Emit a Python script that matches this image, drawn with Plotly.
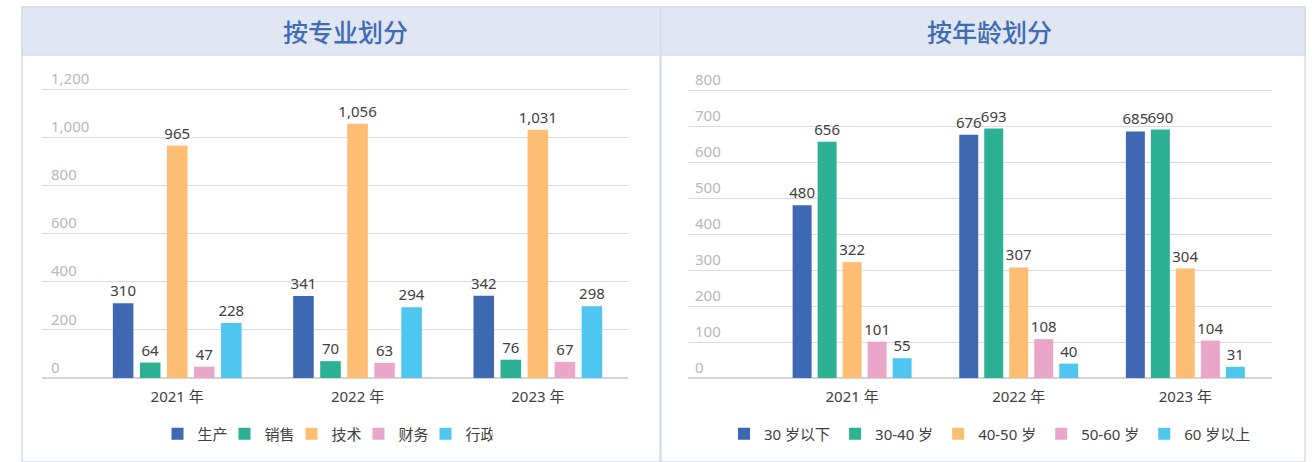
import plotly.graph_objects as go

W, H = 1312, 462

years = ["2021 年", "2022 年", "2023 年"]

major_names = ["生产", "销售", "技术", "财务", "行政"]
major_values = [
    [310, 341, 342],
    [64, 70, 76],
    [965, 1056, 1031],
    [47, 63, 67],
    [228, 294, 298],
]

age_names = ["30 岁以下", "30-40 岁", "40-50 岁", "50-60 岁", "60 岁以上"]
age_values = [
    [480, 676, 685],
    [656, 693, 690],
    [322, 307, 304],
    [101, 108, 104],
    [55, 40, 31],
]

colors = ["#3F68B3", "#2CB195", "#FDBE74", "#E9A6C9", "#4EC6EF"]

FONT = "Noto Sans, Noto Sans CJK SC, sans-serif"


def px(x):
    return x / W


def py(y):
    return 1 - y / H


fig = go.Figure()

for name, vals, c in zip(major_names, major_values, colors):
    fig.add_trace(go.Bar(
        x=years, y=vals, name=name, marker=dict(color=c, line=dict(width=0)),
        texttemplate="%{y:,}", textposition="outside", cliponaxis=False,
        constraintext="none", textangle=0,
        textfont=dict(size=15, color="#404040", family=FONT),
        xaxis="x", yaxis="y", legend="legend", offsetgroup=name,
    ))

for name, vals, c in zip(age_names, age_values, colors):
    fig.add_trace(go.Bar(
        x=years, y=vals, name=name, marker=dict(color=c, line=dict(width=0)),
        texttemplate="%{y:,}", textposition="outside", cliponaxis=False,
        constraintext="none", textangle=0,
        textfont=dict(size=15, color="#404040", family=FONT),
        xaxis="x2", yaxis="y2", legend="legend2", offsetgroup="a" + name,
    ))

grid = "#DCDCDC"
tickfont = dict(size=15, color="#B8B8B8", family=FONT)
xtickfont = dict(size=15, color="#404040", family=FONT)

# y scale: left 0 at y=378, 1200 at y=89 (0.2408 px/unit); right 0 at 378, 800 at 90 (0.36 px/unit)
fig.update_layout(
    width=W, height=H,
    margin=dict(l=0, r=0, t=0, b=0),
    paper_bgcolor="white", plot_bgcolor="white",
    font=dict(family=FONT),
    barmode="group",
    bargap=0.25, bargroupgap=0.24,
    showlegend=True,
    xaxis=dict(domain=[px(42), px(628)], anchor="y", range=[-0.75, 2.5],
               showgrid=False, showline=False, ticks="", tickfont=xtickfont,
               ticklabelstandoff=8, fixedrange=True),
    yaxis=dict(domain=[py(378), py(378 - 1320 * 0.2408)], anchor="x", range=[0, 1320],
               tickvals=[0, 200, 400, 600, 800, 1000, 1200],
               tickformat=",", showgrid=True, gridcolor=grid, gridwidth=1,
               zeroline=True, zerolinecolor="#D4D4D4", zerolinewidth=1.5,
               ticklabelposition="inside top", ticklabelstandoff=6,
               tickfont=tickfont, ticks="", showline=False, fixedrange=True),
    xaxis2=dict(domain=[px(688), px(1272)], anchor="y2", range=[-0.985, 2.52],
                showgrid=False, showline=False, ticks="", tickfont=xtickfont,
                ticklabelstandoff=8, fixedrange=True),
    yaxis2=dict(domain=[py(378), py(378 - 880 * 0.36)], anchor="x2", range=[0, 880],
                tickvals=[0, 100, 200, 300, 400, 500, 600, 700, 800],
                tickformat=",", showgrid=True, gridcolor=grid, gridwidth=1,
                zeroline=True, zerolinecolor="#D4D4D4", zerolinewidth=1.5,
                ticklabelposition="inside top", ticklabelstandoff=4,
                tickfont=tickfont, ticks="", showline=False, fixedrange=True),
    legend=dict(orientation="h", x=px(325), xanchor="center", y=py(434), yanchor="middle",
                font=dict(size=15, color="#404040", family=FONT),
                itemwidth=30, entrywidth=22, entrywidthmode="pixels",
                bgcolor="rgba(0,0,0,0)", traceorder="normal"),
    legend2=dict(orientation="h", x=px(990), xanchor="center", y=py(434), yanchor="middle",
                 font=dict(size=15, color="#404040", family=FONT),
                 itemwidth=30, bgcolor="rgba(0,0,0,0)", traceorder="normal"),
)

border = "#D5DDEE"
band = "#E0E6F2"
shapes = [
    dict(type="rect", xref="paper", yref="paper", x0=px(22), x1=px(660), y0=py(462), y1=py(7),
         line=dict(color=border, width=1.5), fillcolor="rgba(0,0,0,0)", layer="below"),
    dict(type="rect", xref="paper", yref="paper", x0=px(22), x1=px(660), y0=py(55), y1=py(7),
         line=dict(color=border, width=1.5), fillcolor=band, layer="below"),
    dict(type="rect", xref="paper", yref="paper", x0=px(661), x1=px(1305), y0=py(462), y1=py(7),
         line=dict(color=border, width=1.5), fillcolor="rgba(0,0,0,0)", layer="below"),
    dict(type="rect", xref="paper", yref="paper", x0=px(661), x1=px(1305), y0=py(55), y1=py(7),
         line=dict(color=border, width=1.5), fillcolor=band, layer="below"),
]
fig.update_layout(shapes=shapes)

title_font = dict(size=25, color="#3F6CB4", family=FONT, weight=500)
fig.add_annotation(text="按专业划分", xref="paper", yref="paper", x=px(345), y=py(32),
                   showarrow=False, font=title_font, xanchor="center", yanchor="middle")
fig.add_annotation(text="按年龄划分", xref="paper", yref="paper", x=px(990), y=py(32),
                   showarrow=False, font=title_font, xanchor="center", yanchor="middle")

fig.write_html("out.html", config={"displayModeBar": False},
               post_script="document.body.style.margin='0px';")
